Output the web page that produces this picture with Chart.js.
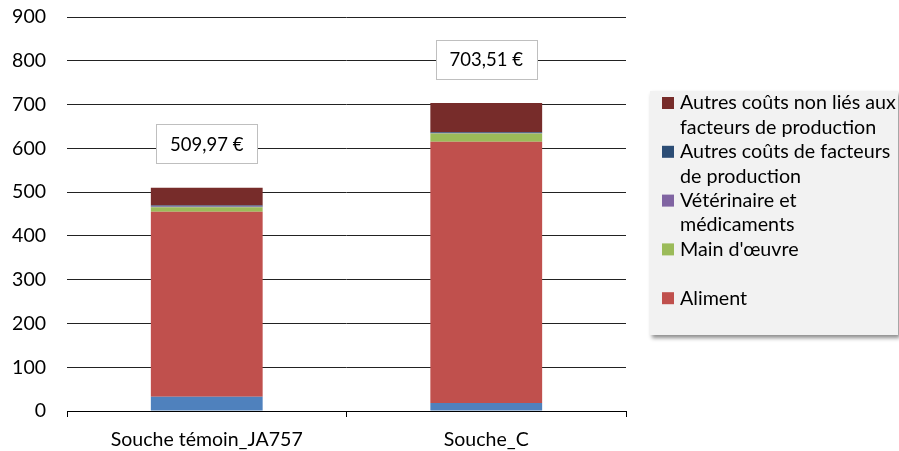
<!DOCTYPE html>
<html>
<head>
<meta charset="utf-8">
<script src="https://cdn.jsdelivr.net/npm/chart.js@4/dist/chart.umd.min.js"></script>
<style>
  html, body { margin: 0; padding: 0; background: #fff; }
  #wrap { width: 899px; height: 451px; }
</style>
</head>
<body>
<div id="wrap"><canvas id="c" width="899" height="451"></canvas></div>
<script>
// Strains compared
const categories = ['Souche témoin_JA757', 'Souche_C'];

// Cost components per strain (€), stacked from bottom to top
const baseCost     = [32.5, 18];      // bottom segment, not listed in the legend
const aliment      = [422.5, 597];
const mainOeuvre   = [10.5, 19];
const veterinaire  = [1.5, 1];
const autresFact   = [2.5, 2];
const autresNonLie = [40.47, 66.51];

// Axis ticks
const yTicks = [0, 100, 200, 300, 400, 500, 600, 700, 800, 900];

const FONT = 'Lato';
const FS_AXIS = 19.5;
const FS_LEGEND = 19.7;
const FS_LABEL = 18.5;

const datasets = [
  { label: '', data: baseCost, backgroundColor: '#4F81BD' },
  { label: 'Aliment', data: aliment, backgroundColor: '#C0504D' },
  { label: "Main d'œuvre", data: mainOeuvre, backgroundColor: '#9BBB59' },
  { label: 'Vétérinaire et médicaments', data: veterinaire, backgroundColor: '#8064A2' },
  { label: 'Autres coûts de facteurs de production', data: autresFact, backgroundColor: '#2C4D75' },
  { label: 'Autres coûts non liés aux facteurs de production', data: autresNonLie, backgroundColor: '#772C2A' }
].map(d => Object.assign(d, { stack: 's', barPercentage: 0.4, categoryPercentage: 1, borderWidth: 0 }));

// Total boxes above each stack
const totalLabels = {
  id: 'totalLabels',
  afterDatasetsDraw(chart) {
    const { ctx, scales: { x, y } } = chart;
    ctx.save();
    categories.forEach((c, i) => {
      const total = chart.data.datasets.reduce((s, d) => s + d.data[i], 0);
      const text = total.toFixed(2).replace('.', ',') + ' €';
      const cx = x.getPixelForValue(i);
      const cy = y.getPixelForValue(total) - 44;
      const w = 101, h = 39;
      ctx.fillStyle = '#fff';
      ctx.fillRect(Math.round(cx - w / 2) + 0.5, Math.round(cy - h / 2) + 0.5, w, h);
      ctx.strokeStyle = '#BFBFBF';
      ctx.lineWidth = 1;
      ctx.strokeRect(Math.round(cx - w / 2) + 0.5, Math.round(cy - h / 2) + 0.5, w, h);
      ctx.fillStyle = '#000';
      ctx.font = FS_LABEL + 'px ' + FONT;
      ctx.textAlign = 'center';
      ctx.textBaseline = 'middle';
      ctx.fillText(text, cx, cy + 1);
    });
    ctx.restore();
  }
};

// Boxed legend on the right, one two-line slot per series
const sideLegend = {
  id: 'sideLegend',
  afterDraw(chart) {
    const { ctx } = chart;
    const bx = 650, by = 91, bw = 248, bh = 244;
    ctx.save();
    ctx.shadowColor = 'rgba(0,0,0,0.45)';
    ctx.shadowBlur = 4;
    ctx.shadowOffsetX = 2;
    ctx.shadowOffsetY = 3;
    ctx.fillStyle = '#F2F2F2';
    ctx.fillRect(bx, by, bw, bh);
    ctx.restore();

    ctx.save();
    ctx.font = FS_LEGEND + 'px ' + FONT;
    ctx.textBaseline = 'middle';
    ctx.textAlign = 'left';
    const items = chart.data.datasets.filter(d => d.label).slice().reverse();
    const lineH = 24.4, textX = 680, maxW = 217;
    items.forEach((d, k) => {
      const top = 103 + k * lineH * 2;
      ctx.fillStyle = d.backgroundColor;
      ctx.fillRect(662, top - 6, 12, 12);
      // wrap words into lines
      const words = d.label.split(' ');
      const lines = [];
      let cur = '';
      words.forEach(wd => {
        const t = cur ? cur + ' ' + wd : wd;
        if (ctx.measureText(t).width > maxW && cur) { lines.push(cur); cur = wd; }
        else cur = t;
      });
      lines.push(cur);
      ctx.fillStyle = '#000';
      lines.forEach((ln, j) => ctx.fillText(ln, textX, top + j * lineH));
    });
    ctx.restore();
  }
};

new Chart(document.getElementById('c'), {
  type: 'bar',
  data: { labels: categories, datasets },
  plugins: [totalLabels, sideLegend],
  options: {
    responsive: false,
    animation: false,
    layout: { padding: { left: 0, right: 273, top: 17, bottom: 0 } },
    plugins: { legend: { display: false }, tooltip: { enabled: false } },
    scales: {
      x: {
        stacked: true,
        offset: true,
        grid: { display: true, drawOnChartArea: false, drawTicks: true, tickLength: 6, color: '#000', offset: true },
        border: { display: true, color: '#000', width: 1 },
        ticks: { color: '#000', font: { family: FONT, size: FS_AXIS }, padding: 11, maxRotation: 0 },
        afterFit(s) { s.height = 40; }
      },
      y: {
        stacked: true,
        min: 0,
        max: 900,
        afterBuildTicks(s) { s.ticks = yTicks.map(v => ({ value: v })); },
        grid: { color: '#222', lineWidth: 1, drawTicks: false },
        border: { display: false },
        ticks: { color: '#000', font: { family: FONT, size: FS_AXIS }, padding: 21 },
        afterFit(s) { s.width = 67; s.paddingTop = 0; s.paddingBottom = 0; }
      }
    }
  }
});
</script>
</body>
</html>
